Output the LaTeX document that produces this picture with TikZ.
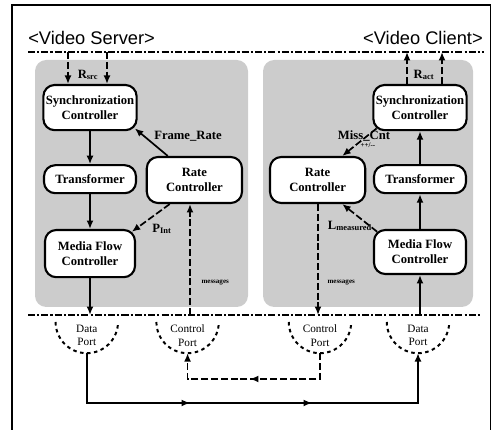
\documentclass[tikz,border=0pt]{standalone}
\usepackage{fontspec}
\setmainfont{Liberation Serif}
\setsansfont{Liberation Sans}
\usetikzlibrary{positioning,arrows.meta,decorations.markings}

\tikzset{
  box/.style={draw, line width=1.5pt, rounded corners=8pt, fill=white, align=center,
    font=\fontsize{9}{10.5}\selectfont\bfseries, inner sep=1pt},
  flow/.style={very thick, -{Latex[length=6pt,width=5pt]}},
  ctrl/.style={very thick, dash pattern=on 5pt off 2pt, -{Latex[length=6pt,width=5pt]}},
  border/.style={thick, dash pattern=on 5pt off 1.5pt on 1.5pt off 1.5pt},
  port/.style={line width=1.4pt, dash pattern=on 2.5pt off 2.5pt},
  panel/.style={fill=gray!40, rounded corners=8pt},
  lbl/.style={font=\fontsize{9}{10}\selectfont\bfseries, inner sep=1pt},
  tinylbl/.style={font=\fontsize{5}{6}\selectfont\bfseries, inner sep=1pt},
  title/.style={font=\sffamily\fontsize{13}{15}\selectfont, inner sep=0pt},
  porttext/.style={align=center, font=\fontsize{8}{9.5}\selectfont, inner sep=0pt}
}

\begin{document}
\begin{tikzpicture}
    \useasboundingbox (0,0) rectangle (12.325,10.75);

    % Frame and headings
    \draw[thick] (0.3,0) -- (0.3,10.625) -- (12.27,10.625) -- (12.27,0);
    \node[title, anchor=base west] (srvtitle) at (0.7,9.625) {<Video Server>};
    \node[title, anchor=base east] (clititle) at (12.075,9.625) {<Video Client>};
    \draw[border] (0.7,9.45) -- (12.1,9.45);
    \draw[border] (0.7,2.875) -- (12.05,2.875);

    % Shaded areas
    \fill[panel] (0.875,3.075) rectangle (6.2,9.25);
    \fill[panel] (6.575,3.075) rectangle (11.825,9.25);

    % Server side
    \node[box, minimum width=2.33cm, minimum height=1.13cm] (ssync) at (2.25,8.06) {Synchronization\\Controller};
    \node[box, minimum width=2.3cm, minimum height=0.7cm] (strans) at (2.25,6.27) {Transformer};
    \node[box, minimum width=2.38cm, minimum height=1.15cm] (srate) at (4.86,6.25) {Rate\\Controller};
    \node[box, minimum width=2.25cm, minimum height=1.18cm] (smedia) at (2.25,4.41) {Media Flow\\Controller};

    % Client side
    \node[box, minimum width=2.33cm, minimum height=1.13cm] (csync) at (10.5,8.06) {Synchronization\\Controller};
    \node[box, minimum width=2.3cm, minimum height=0.7cm] (ctrans) at (10.5,6.27) {Transformer};
    \node[box, minimum width=2.38cm, minimum height=1.15cm] (crate) at (7.94,6.25) {Rate\\Controller};
    \node[box, minimum width=2.3cm, minimum height=1.1cm] (cmedia) at (10.5,4.45) {Media Flow\\Controller};

    % Inputs / outputs at the top
    \coordinate (sin1) at (1.7,9.45);
    \coordinate (sin2) at (2.675,9.45);
    \draw[ctrl] (sin1) -- (sin1 |- ssync.north);
    \draw[ctrl] (sin2) -- (sin2 |- ssync.north);
    \node[lbl] (rsrc) at (2.2,8.875) {R\textsubscript{src}};
    \coordinate (cout1) at (10.175,9.45);
    \coordinate (cout2) at (11.05,9.45);
    \draw[ctrl] (cout1 |- csync.north) -- (cout1);
    \draw[ctrl] (cout2 |- csync.north) -- (cout2);
    \node[lbl] (ract) at (10.6,8.875) {R\textsubscript{act}};

    % Data path
    \coordinate (sout) at (2.25,2.875);
    \coordinate (cin) at (10.5,2.875);
    \draw[flow] (ssync) -- (strans);
    \draw[flow] (strans) -- (smedia);
    \draw[flow] (smedia) -- (sout);
    \draw[flow] (cin) -- (cmedia);
    \draw[flow] (cmedia) -- (ctrans);
    \draw[flow] (ctrans) -- (csync);

    % Control links
    \draw[flow] ([xshift=0.55cm]srate.north west) -- ([xshift=-2pt,yshift=2pt]ssync.south east);
    \node[lbl] (framerate) at (4.7,7.35) {Frame\_Rate};
    \draw[ctrl] ([xshift=0.6cm]srate.south west) -- ([xshift=-3pt,yshift=-2pt]smedia.north east);
    \node[lbl] (pint) at (4.05,5.02) {P\textsubscript{Int}};
    \draw[ctrl] ([xshift=3pt,yshift=2pt]csync.south west) -- ([xshift=-0.6cm]crate.north east);
    \node[lbl] (misscnt) at (9.1,7.36) {Miss\_Cnt};
    \node[tinylbl] (misspm) at (9.2,7.12) {++/-{}-};
    \draw[ctrl] ([xshift=3pt,yshift=-2pt]cmedia.north west) -- ([xshift=-0.6cm]crate.south east);
    \node[lbl] (lmeas) at (8.75,5.1) {L\textsubscript{measured}};

    % Messages
    \coordinate (smsg) at (4.75,2.875);
    \coordinate (cmsg) at (7.95,2.875);
    \draw[ctrl] (smsg) -- (smsg |- srate.south);
    \draw[ctrl] (cmsg |- crate.south) -- (cmsg);
    \node[tinylbl] (smsgtxt) at (5.38,3.7) {messages};
    \node[tinylbl] (cmsgtxt) at (8.53,3.68) {messages};

    % Ports
    \draw[port] (1.39,2.7) arc (180:360:0.78);
    \draw[port] (3.91,2.7) arc (180:360:0.78);
    \draw[port] (7.22,2.7) arc (180:360:0.78);
    \draw[port] (9.67,2.7) arc (180:360:0.78);
    \node[porttext] (sdatatxt) at (2.17,2.36) {Data\\Port};
    \node[porttext] (sctrltxt) at (4.69,2.36) {Control\\Port};
    \node[porttext] (cctrltxt) at (8.0,2.36) {Control\\Port};
    \node[porttext] (cdatatxt) at (10.45,2.36) {Data\\Port};
    \coordinate (sdataport) at (2.17,1.92);
    \coordinate (sctrlport) at (4.69,1.92);
    \coordinate (cctrlport) at (8.0,1.92);
    \coordinate (cdataport) at (10.45,1.92);

    % Network connections
    \draw[flow, postaction={decorate}, decoration={markings,
        mark=at position 3.825cm with {\arrow{Latex[length=6pt,width=5pt]}},
        mark=at position 6.875cm with {\arrow{Latex[length=6pt,width=5pt]}}}]
        (sdataport) -- ++(0,-1.245) -| (cdataport);
    \draw[ctrl, postaction={decorate}, decoration={markings,
        mark=at position 2.395cm with {\arrow{Latex[length=6pt,width=5pt]}}}]
        (cctrlport) -- ++(0,-0.645) -| (sctrlport);
\end{tikzpicture}
\end{document}
